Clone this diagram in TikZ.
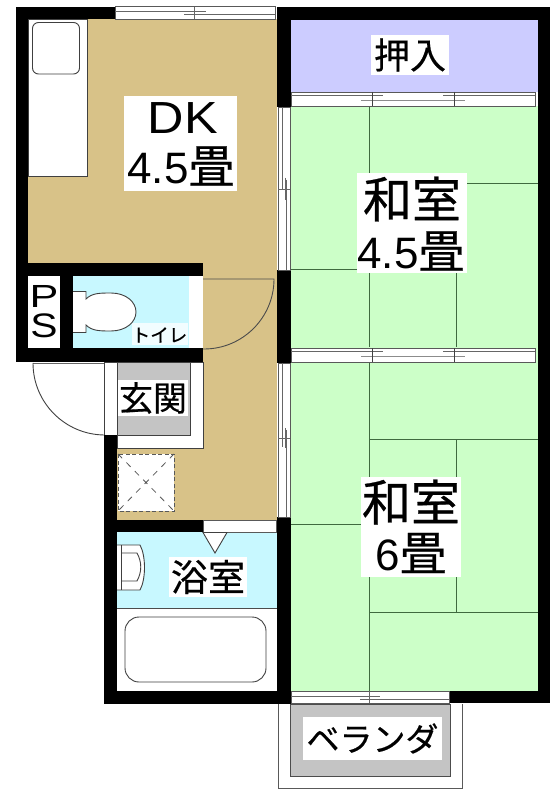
\documentclass[tikz,border=0pt]{standalone}
\usepackage{graphicx}
\usepackage{fontspec}
\setmainfont{Liberation Sans}
\newfontfamily\jpf[FakeBold=0.5]{Noto Sans CJK JP}
\definecolor{tan}{HTML}{D8C288}
\definecolor{tatami}{HTML}{CCFFC8}
\definecolor{lav}{HTML}{CCCCFF}
\definecolor{aqua}{HTML}{C8F8FF}
\definecolor{grayfl}{HTML}{C4C4C4}
\definecolor{tline}{HTML}{3F6A3F}
\newcommand{\fs}[1]{\fontsize{#1}{#1}\selectfont}
\tikzset{
 wall/.style={fill=black,draw=none},
 fineline/.style={draw=black!75,line width=0.9pt},
 mat/.style={draw=tline,line width=1pt},
 winbox/.style={fill=white,draw=black!65,line width=0.8pt},
 winline/.style={draw=black!60,line width=0.8pt},
 lab/.style={fill=white,inner sep=0pt,align=center,text=black},
}
\begin{document}
\begin{tikzpicture}[x=1pt,y=-1pt]
\useasboundingbox (0,0) rectangle (552,791);
\fill[white] (0,0) rectangle (552,791);
% floors
\fill[tan] (28,19) rectangle (277,263);
\fill[tan] (203,263) rectangle (277,520);
\fill[tan] (117,448) rectangle (277,520);
\fill[tatami] (291,106) rectangle (538,691);
\fill[lav] (291,20) rectangle (538,92);
\fill[aqua] (73,276) rectangle (189,348);
\fill[aqua!25] (132,323) rectangle (188,345);
\fill[aqua] (117,532) rectangle (277,608);
% kitchen
\draw[fineline,fill=white] (28,19) rectangle (87,176);
\draw[fineline,rounded corners=6pt] (32.5,22.5) rectangle (79.5,74);
% door swing
\draw[draw=black!70,line width=0.9pt] (203,279) -- (274,279) arc[start angle=0,end angle=90,radius=70] -- (203,349);
\fill[white] (189,279) rectangle (203,348);
% tatami lines room 1
\draw[mat] (369,106) -- (369,347);
\draw[mat] (456,270) -- (456,347);
\draw[mat] (360,184) -- (538,184);
\draw[mat] (291,269) -- (360,269);
% tatami lines room 2
\draw[mat] (369,362) -- (369,691);
\draw[mat] (369,439) -- (538,439);
\draw[mat] (369,612) -- (538,612);
\draw[mat] (456,439) -- (456,612);
\draw[mat] (291,524) -- (369,524);
% entrance
\draw[fineline,fill=white] (117,362) rectangle (203,448);
\draw[fineline,fill=grayfl] (117,362) rectangle (190,435);
\draw[fineline,fill=white] (104,362) rectangle (117,435);
\draw[draw=black!60,line width=0.8pt] (33,363) -- (104,363);
\draw[fineline] (33,363) arc[start angle=180,end angle=90,radius=72];
% floor hatch
\draw[fill=white,draw=none] (118,454) rectangle (174,511);
\draw[draw=black!65,line width=1pt,dash pattern=on 4pt off 2.5pt] (118,454) rectangle (174,511);
\draw[draw=black!65,line width=0.8pt,dash pattern=on 6pt off 6pt] (118,454) -- (174,511) (174,454) -- (118,511);
% bath
\fill[white] (117,608) rectangle (277,691);
\draw[draw=black!70,line width=0.8pt] (117,608) -- (277,608);
\draw[fineline,rounded corners=14pt] (125,617) rectangle (266,682);
\draw[fineline,fill=white] (117,545) -- (140,545) .. controls (146,556) and (146,579) .. (140,590) -- (117,590);
\draw[fineline] (121,545) -- (121,590);
\draw[fineline] (121,553) -- (137,553) .. controls (142,562) and (142,572) .. (137,581) -- (121,581);
% walls
\fill[wall] (16,7) rectangle (115,19);
\fill[wall] (16,7) rectangle (28,362);
\fill[wall] (16,263) rectangle (203,276);
\fill[wall] (16,348) rectangle (203,362);
\fill[wall] (60,276) rectangle (73,348);
\fill[wall] (104,435) rectangle (117,704);
\fill[wall] (117,520) rectangle (203,532);
\fill[wall] (104,691) rectangle (291,704);
\fill[wall] (277,7) rectangle (550,20);
\fill[wall] (277,7) rectangle (291,107);
\fill[wall] (277,270) rectangle (291,363);
\fill[wall] (277,517) rectangle (291,704);
\fill[wall] (538,7) rectangle (550,703);
\fill[wall] (449,691) rectangle (550,703);
% door bath
\draw[winbox] (203,520) rectangle (276,532);
\draw[fineline,fill=white] (203,532.5) -- (227,532.5) -- (215,553) -- cycle;
% windows
\draw[winbox] (115,6.5) rectangle (275,19);
\draw[winline] (115,11) -- (206,11) (184,14.5) -- (275,14.5) (194,7) -- (194,19);
\draw[winbox] (278,107) rectangle (290,270);
\draw[winline] (282,107) -- (282,190) (286,180) -- (286,270) (278,189) -- (290,189) (285,178) -- (285,200);
\draw[winbox] (278,363) rectangle (290,517);
\draw[winline] (282,363) -- (282,447) (286,430) -- (286,517) (278,438) -- (290,438) (285,428) -- (285,448);
\foreach \ya/\yb in {92/106,348/362}{
 \draw[winbox] (291,\ya) rectangle (535,\yb);
 \draw[winline] (291,\ya+3.5) -- (383,\ya+3.5) (443,\ya+3.5) -- (535,\ya+3.5);
 \draw[draw=black!45,line width=0.8pt] (361,\ya+8) -- (465,\ya+8);
 \draw[draw=black!75,line width=0.9pt] (372,\ya) -- (372,\yb) (454,\ya) -- (454,\yb);
}
\draw[winbox] (291,691) rectangle (449,703);
\draw[winline] (291,696) -- (380,696) (360,699) -- (449,699) (369,691) -- (369,703);
% veranda
\draw[draw=black!65,line width=0.8pt,fill=white] (278,703.5) -- (278,788) -- (462,788) -- (462,703.5);
\draw[draw=black!70,line width=0.9pt,fill=grayfl] (290.5,704) rectangle (450,776.5);
% toilet fixture
\draw[fineline,fill=white] (73,291.5) -- (86,291.5) -- (86,299) .. controls (92,293) and (100,293) .. (111,293) .. controls (126,293) and (136,302) .. (136,312) .. controls (136,322) and (126,331) .. (111,331) .. controls (100,331) and (92,331) .. (86,325) -- (86,332.5) -- (73,332.5);
% labels
\node[lab,minimum width=113pt,minimum height=95pt] (dk) at (180.5,143.5) {};
\node[lab,anchor=center] (dkt) at (183,118) {\scalebox{1.12}[1]{\fs{45}DK}};
\node[lab,anchor=center] (dkn) at (181,166) {\fs{44}4.5{\jpf\fs{46}畳}};
\node[lab,minimum width=78pt,minimum height=40pt] (oshi) at (410,55) {\jpf\fs{36}押入};
\node[lab,minimum width=110pt,minimum height=100pt] (w1) at (412,223) {};
\node[lab] (w1a) at (412,199) {\jpf\fs{49}和室};
\node[lab] (w1b) at (411,251) {\fs{44}4.5{\jpf\fs{46}畳}};
\node[lab,minimum width=100pt,minimum height=100pt] (w2) at (411,527) {};
\node[lab] (w2a) at (411,502) {\jpf\fs{49}和室};
\node[lab] (w2b) at (411,553) {\fs{44}6{\jpf\fs{47}畳}};
\node[lab,minimum width=32pt,minimum height=72pt] (ps) at (44,312) {};
\node[lab] (psa) at (44,296) {\scalebox{1.35}[1]{\fs{32}P}};
\node[lab] (psb) at (44,326) {\scalebox{1.2}[1]{\fs{34}S}};
\node[inner sep=0pt,text=black] (toi) at (159.5,335) {\jpf\fs{18.5}トイレ};
\node[lab,minimum width=70pt,minimum height=36pt] (gen) at (153,398) {\jpf\fs{34}玄関};
\node[lab,minimum width=78pt,minimum height=40pt] (yoku) at (208,577) {\jpf\fs{37}浴室};
\node[lab,minimum width=139pt,minimum height=43pt] (ver) at (372.5,738.5) {\jpf\fs{33}ベランダ};
\end{tikzpicture}
\end{document}
